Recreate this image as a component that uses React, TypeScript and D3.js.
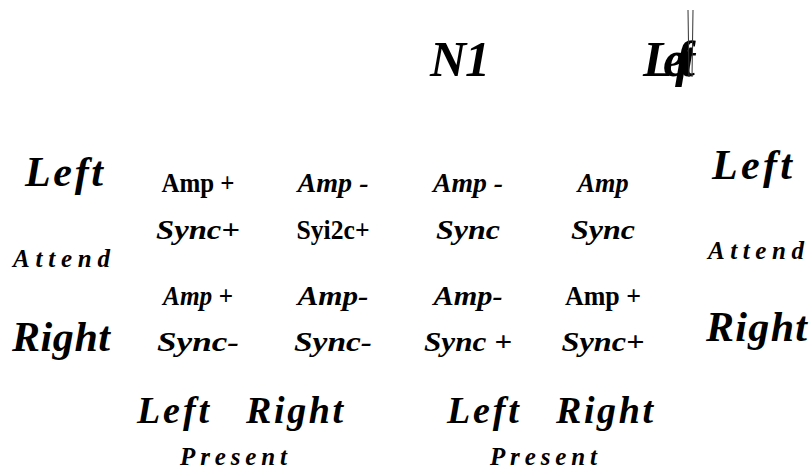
import React from 'react';
import * as d3 from 'd3';

// header titles over the two panels
const titles = ['N1', 'Left'];
// side labels (rows)
const sideCats = ['Left', 'Right'];
const sideMiddle = 'Attend';
// bottom labels (columns inside each panel)
const presentCats = ['Left', 'Right'];
const presentLabel = 'Present';

// cell labels, one list per text row, four columns each
const ampTop = ['Amp +', 'Amp -', 'Amp -', 'Amp'];
const syncTop = ['Sync+', 'Syi2c+', 'Sync', 'Sync'];
const ampBottom = ['Amp +', 'Amp-', 'Amp-', 'Amp +'];
const syncBottom = ['Sync-', 'Sync-', 'Sync +', 'Sync+'];

const W = 812;
const H = 474;
const FONT = 'Liberation Serif';

// which cells are set upright instead of italic, and their drawn widths
const upright: Record<string, boolean> = { '0-0': true, '1-1': true, '2-3': true };
const cellWidths = [
  [73, 71, 70, 51],
  [84, 73, 64, 64],
  [70, 71, 69, 76],
  [82, 78, 88, 83],
];
const presentWidths = [72, 97];

export default function App() {
  const cols = ['c0', 'c1', 'c2', 'c3'];
  const x = d3.scalePoint<string>().domain(cols).range([198, 603]);
  const rowGroup = d3.scalePoint<string>().domain(sideCats).range([192, 305]);
  const lineGap = 46;

  const rows = [
    { y: rowGroup('Left')!, labels: ampTop },
    { y: rowGroup('Left')! + lineGap + 1, labels: syncTop },
    { y: rowGroup('Right')!, labels: ampBottom },
    { y: rowGroup('Right')! + lineGap, labels: syncBottom },
  ];

  const panel = d3.scaleBand<string>().domain(['p0', 'p1']).range([137, 653]).paddingInner(0.335);
  const inPanel = d3.scalePoint<string>().domain(presentCats).range([0, panel.bandwidth()]);

  const titleX = d3.scalePoint<string>().domain(titles).range([430, 643]);

  const t = { fontFamily: FONT, fontWeight: 'bold', fill: '#000' } as const;

  return (
    <svg width={W} height={H} style={{ position: 'absolute', left: 0, top: 0, background: '#fff' }}>
      <rect width={W} height={H} fill="#fff" />

      {/* titles */}
      <text {...t} x={titleX('N1')} y={76} fontSize={50} fontStyle="italic" textLength={60}>
        {titles[0]}
      </text>
      <text
        {...t}
        x={titleX('Left')}
        y={76}
        fontSize={50}
        fontStyle="italic"
        textLength={52}
        lengthAdjust="spacing"
      >
        {titles[1]}
      </text>
      <line x1={688} y1={10} x2={689} y2={77} stroke="#333" strokeWidth={1} />
      <line x1={693} y1={10} x2={692} y2={77} stroke="#333" strokeWidth={1} />

      {/* left side labels */}
      <text {...t} x={25} y={186} fontSize={42} fontStyle="italic" textLength={78}>
        {sideCats[0]}
      </text>
      <text {...t} x={13} y={267} fontSize={25} fontStyle="italic" textLength={97}>
        {sideMiddle}
      </text>
      <text {...t} x={12} y={351} fontSize={42} fontStyle="italic" textLength={98}>
        {sideCats[1]}
      </text>

      {/* right side labels */}
      <text {...t} x={712} y={179} fontSize={42} fontStyle="italic" textLength={80}>
        {sideCats[0]}
      </text>
      <text {...t} x={708} y={259} fontSize={25} fontStyle="italic" textLength={96}>
        {sideMiddle}
      </text>
      <text {...t} x={706} y={341} fontSize={42} fontStyle="italic" textLength={101}>
        {sideCats[1]}
      </text>

      {/* cells */}
      {rows.map((r, ri) =>
        r.labels.map((lab, ci) => (
          <text
            {...t}
            key={`${ri}-${ci}`}
            x={x(cols[ci])! - cellWidths[ri][ci] / 2}
            y={r.y}
            fontSize={28}
            fontStyle={upright[`${ri}-${ci}`] ? 'normal' : 'italic'}
            textLength={cellWidths[ri][ci]}
            lengthAdjust="spacingAndGlyphs"
          >
            {lab}
          </text>
        ))
      )}

      {/* bottom: Left Right / Present per panel */}
      {['p0', 'p1'].map((p) => {
        const px = panel(p)!;
        return (
          <g key={p}>
            {presentCats.map((c, i) => (
              <text
                {...t}
                key={c}
                x={i === 0 ? px : px + inPanel(c)! - presentWidths[i]}
                y={423}
                fontSize={38}
                fontStyle="italic"
                textLength={presentWidths[i]}
                lengthAdjust="spacing"
              >
                {c}
              </text>
            ))}
            <text
              {...t}
              x={px + panel.bandwidth() / 2 - 60}
              y={465}
              fontSize={25}
              fontStyle="italic"
              textLength={107}
              lengthAdjust="spacing"
            >
              {presentLabel}
            </text>
          </g>
        );
      })}
    </svg>
  );
}
